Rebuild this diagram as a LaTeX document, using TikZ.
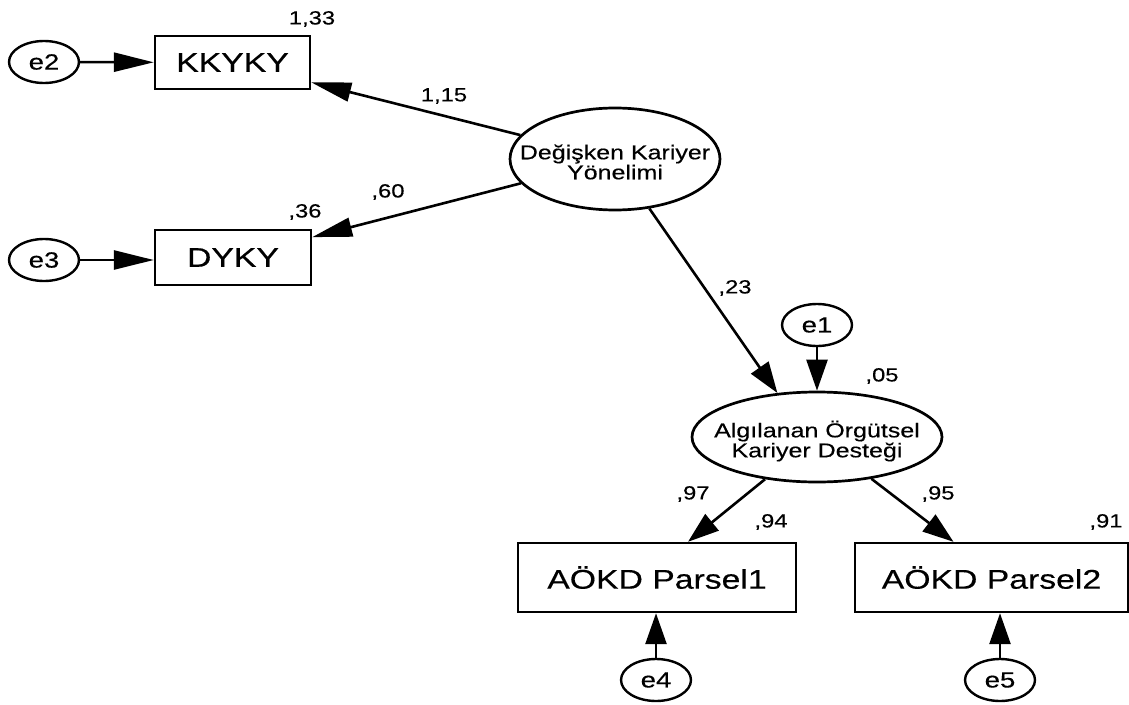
\documentclass[tikz,border=0pt]{standalone}
\usepackage{fontspec}
\setmainfont[FakeStretch=1.25,FakeBold=0.4]{Liberation Sans}
\usetikzlibrary{arrows.meta,shapes.geometric}

\tikzset{
  obsbox/.style={draw, line width=2.4pt, inner sep=0pt,
    font=\fontsize{27}{32}\selectfont},
  latent/.style={draw, ellipse, line width=2.7pt, inner sep=0pt},
  lattext/.style={align=center, inner sep=0pt,
    font=\fontsize{20}{20}\selectfont},
  errnode/.style={draw, ellipse, line width=2.4pt, inner sep=0pt,
    minimum width=70pt, minimum height=42pt,
    font=\fontsize{22}{26}\selectfont},
  coef/.style={inner sep=0pt, font=\fontsize{19}{22}\selectfont},
  regpath/.style={line width=2.6pt, -{Triangle[length=31pt,width=21pt]}},
  flatpath/.style={line width=2.6pt, -{Triangle[length=40pt,width=19pt]}}
}

\begin{document}
\begin{tikzpicture}[x=1pt,y=-1pt]
\useasboundingbox (0,0) rectangle (1129,704);

% observed indicators
\node[obsbox, minimum width=155pt, minimum height=53pt] (kk) at (232.5,62.5) {KKYKY};
\node[obsbox, minimum width=156pt, minimum height=55pt] (dy) at (233,257.5) {DYKY};
\node[obsbox, minimum width=278pt, minimum height=69pt] (p1) at (657,577.5) {AÖKD Parsel1};
\node[obsbox, minimum width=273pt, minimum height=69pt] (p2) at (991.5,577.5) {AÖKD Parsel2};

% latent variables
\node[latent, minimum width=210pt, minimum height=102pt] (deg) at (615,159) {};
\node[lattext] (degtxt) at (615,162) {Değişken Kariyer\\Yönelimi};
\node[latent, minimum width=250pt, minimum height=90pt] (alg) at (817,437) {};
\node[lattext] (algtxt) at (817,441) {Algılanan Örgütsel\\Kariyer Desteği};

% error terms
\node[errnode] (e2) at (44,62) {e2};
\node[errnode] (e3) at (44,260) {e3};
\node[errnode] (e1) at (817,325) {e1};
\node[errnode] (e4) at (656,680) {e4};
\node[errnode] (e5) at (1000,680) {e5};

% paths
\draw[flatpath] (e2) -- (kk);
\draw[flatpath] (e3) -- (e3 -| dy.west);
\draw[flatpath] (deg) -- (kk);
\draw[flatpath] (deg) -- (dy);
\draw[regpath] (deg) -- (alg.132);
\draw[regpath] (e1) -- (alg);
\draw[regpath] (alg) -- ([xshift=31pt]p1.north);
\draw[regpath] (alg) -- ([xshift=-38pt]p2.north);
\draw[regpath] (e4) -- (e4 |- p1.south);
\draw[regpath] (e5) -- (e5 |- p2.south);

% estimates
\node[coef] (c133) at (312,19) {1,33};
\node[coef] (c115) at (444,96) {1,15};
\node[coef] (c60) at (388,192) {,60};
\node[coef] (c36) at (305,212) {,36};
\node[coef] (c23) at (735,288) {,23};
\node[coef] (c05) at (882,376) {,05};
\node[coef] (c97) at (693,494) {,97};
\node[coef] (c94) at (771,522) {,94};
\node[coef] (c95) at (938,494) {,95};
\node[coef] (c91) at (1106,522) {,91};
\end{tikzpicture}
\end{document}
